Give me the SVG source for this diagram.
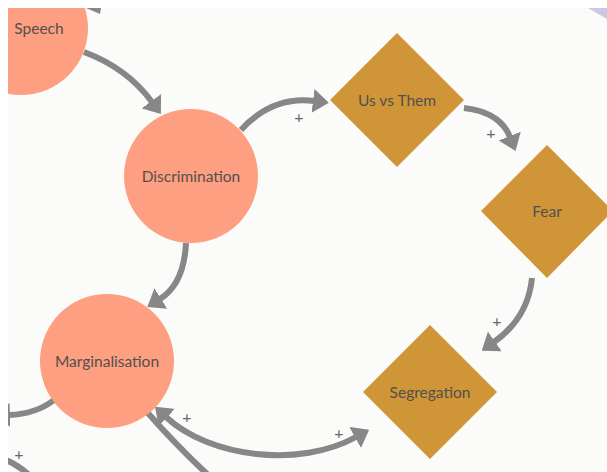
<svg xmlns="http://www.w3.org/2000/svg" width="607" height="472" viewBox="0 0 607 472">
<defs>
<style>
.circ{fill:#fd9f80}
.dia{fill:#d09537}
.lbl{font-family:Lato,"Open Sans","Liberation Sans",sans-serif;font-size:15.5px;fill:#52504e;text-anchor:middle;dominant-baseline:central}
.plus{font-family:Lato,"Liberation Sans",sans-serif;font-size:16px;fill:#666;text-anchor:middle;dominant-baseline:central}
.link{fill:none;stroke:#878787;stroke-width:6}
</style>
<marker id="ah" viewBox="0 0 16 24" refX="1" refY="12" markerWidth="16" markerHeight="24" markerUnits="userSpaceOnUse" orient="auto-start-reverse">
<path d="M0,0 L16,12 L0,24 z" fill="#878787"/>
</marker>
</defs>
<rect x="0" y="0" width="607" height="472" fill="#fbfbf9"/>
<polygon points="588,8 607,8 607,19" fill="#c9c9e6"/>
<g id="links">
<polygon points="86,8 101,8 100,14" fill="#878787"/>
<path class="link" d="M84,52 Q127,68 152,102" marker-end="url(#ah)"/>
<path class="link" d="M241,130 Q272,96 314,101" marker-end="url(#ah)"/>
<path class="link" d="M464,108 Q500,112 510,137" marker-end="url(#ah)"/>
<path class="link" d="M532,278 Q528,318 494,342" marker-end="url(#ah)"/>
<path class="link" d="M186,243 Q184,284 160,299" marker-end="url(#ah)"/>
<path class="link" d="M166,417 C210,458 300,468 356,437" marker-start="url(#ah)" marker-end="url(#ah)"/>
<path class="link" d="M147,412 Q175,444 207,474"/>
<path class="link" d="M9,415 Q36,414 54,400" marker-start="url(#ah)"/>
<path class="link" d="M4,459 Q18,465 28,474"/>
</g>
<g id="speech"><circle class="circ" cx="21" cy="28" r="67"/><text class="lbl" x="39" y="28">Speech</text></g>
<g id="discrimination"><circle class="circ" cx="191" cy="176" r="67"/><text class="lbl" x="191" y="176">Discrimination</text></g>
<g id="marginalisation"><circle class="circ" cx="107" cy="361" r="67"/><text class="lbl" x="107" y="361">Marginalisation</text></g>
<g id="usvsthem"><polygon class="dia" points="397,33 464,100 397,167 330,100"/><text class="lbl" x="397" y="100">Us vs Them</text></g>
<g id="fear"><polygon class="dia" points="547,145 613,211 547,278 481,211"/><text class="lbl" x="547" y="211">Fear</text></g>
<g id="segregation"><polygon class="dia" points="430,325 497,392 430,459 363,392"/><text class="lbl" x="430" y="392">Segregation</text></g>
<g id="signs">
<text class="plus" x="299" y="116">+</text>
<text class="plus" x="491" y="132">+</text>
<text class="plus" x="497" y="320">+</text>
<text class="plus" x="187" y="416">+</text>
<text class="plus" x="339" y="432">+</text>
<text class="plus" x="19" y="453">+</text>
</g>
<rect x="0" y="0" width="607" height="8" fill="#ffffff"/>
<rect x="0" y="0" width="8" height="472" fill="#ffffff"/>
</svg>
